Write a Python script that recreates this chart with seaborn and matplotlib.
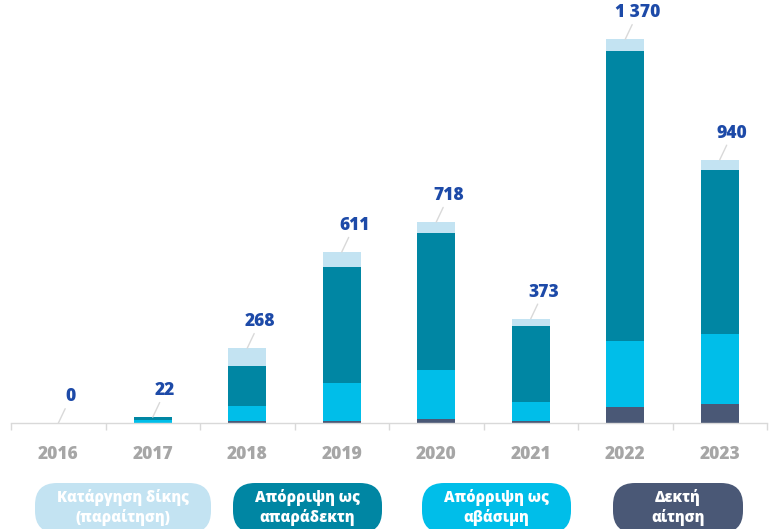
import matplotlib
matplotlib.use("Agg")
import matplotlib.pyplot as plt
from matplotlib.patches import FancyBboxPatch
from matplotlib.transforms import IdentityTransform
import pandas as pd
import seaborn as sns

# Outcomes of applications per year
years = ["2016", "2017", "2018", "2019", "2020", "2021", "2022", "2023"]
accepted = [0, 1, 9, 9, 16, 7, 57, 68]              # Δεκτή αίτηση
rejected_unfounded = [0, 12, 52, 133, 174, 69, 237, 251]   # Απόρριψη ως αβάσιμη
rejected_inadmissible = [0, 9, 145, 414, 490, 270, 1035, 585]  # Απόρριψη ως απαράδεκτη
withdrawn = [0, 0, 62, 55, 38, 27, 41, 36]          # Κατάργηση δίκης (παραίτηση)

series_labels = ["Δεκτή\nαίτηση", "Απόρριψη ως\nαβάσιμη",
                 "Απόρριψη ως\nαπαράδεκτη", "Κατάργηση δίκης\n(παραίτηση)"]
colors = ["#4a5876", "#00bee9", "#0086a3", "#c3e3f2"]

df = pd.DataFrame({
    "year": years,
    "accepted": accepted,
    "unfounded": rejected_unfounded,
    "inadmissible": rejected_inadmissible,
    "withdrawn": withdrawn,
})
cols = ["accepted", "unfounded", "inadmissible", "withdrawn"]
cum = df[cols].cumsum(axis=1)
cum["year"] = df["year"]
totals = df[cols].sum(axis=1).tolist()

sns.set_theme(style="white")
plt.rcParams["font.family"] = ["Open Sans", "DejaVu Sans"]
WEIGHT = 800

W, H = 777, 529
fig = plt.figure(figsize=(W / 100, H / 100), dpi=100)
base_px = 423.3
ax = fig.add_axes([11 / W, (H - base_px) / H, 756 / W, base_px / H])

# stacked bars drawn as overlapping cumulative layers, top layer first
for col, color in zip(reversed(cols), reversed(colors)):
    sns.barplot(data=cum, x="year", y=col, color=color, saturation=1,
                width=0.4, errorbar=None, linewidth=0, ax=ax)

ax.set_xlim(-0.5, len(years) - 0.5)
ax.set_ylim(0, 1510)
ax.set_xlabel("")
ax.set_ylabel("")
ax.set_yticks([])
for s in ["top", "right", "left"]:
    ax.spines[s].set_visible(False)
ax.spines["bottom"].set_color("#d9d9d9")
ax.spines["bottom"].set_linewidth(1)

ax.set_xticks(range(len(years)))
ax.set_xticklabels(years)
ax.set_xticks([i - 0.5 for i in range(len(years) + 1)], minor=True)
ax.tick_params(axis="x", which="major", length=0, pad=16,
               labelsize=12.5, labelcolor="#a6a6a6")
ax.tick_params(axis="x", which="minor", length=5, width=1,
               color="#d9d9d9", bottom=True)
for t in ax.get_xticklabels():
    t.set_fontweight(WEIGHT)

# total labels with leader lines
for i, tot in enumerate(totals):
    label = f"{tot:,}".replace(",", " ")
    ax.annotate(label, xy=(i, tot), xytext=(9, 19), textcoords="offset points",
                ha="center", va="center", fontsize=12.5, fontweight=WEIGHT,
                color="#1d4aa8",
                arrowprops=dict(arrowstyle="-", color="#d9d9d9", lw=1,
                                shrinkA=0, shrinkB=0))

# legend pills along the bottom
pills = [(35, 211), (233, 382), (422, 571), (613, 743)]
legend_order = [3, 2, 1, 0]
for (x0, x1), k in zip(pills, legend_order):
    p = FancyBboxPatch((x0, H - 533), x1 - x0, 50,
                       boxstyle="round,pad=0,rounding_size=22",
                       transform=IdentityTransform(),
                       facecolor=colors[k], edgecolor="none")
    fig.add_artist(p)
    fig.text((x0 + x1) / 2 / W, 1 - 507.5 / H, series_labels[k],
             ha="center", va="center", color="white", fontsize=10.5,
             fontweight=WEIGHT, linespacing=1.3)

fig.savefig("out.png", dpi=100)
